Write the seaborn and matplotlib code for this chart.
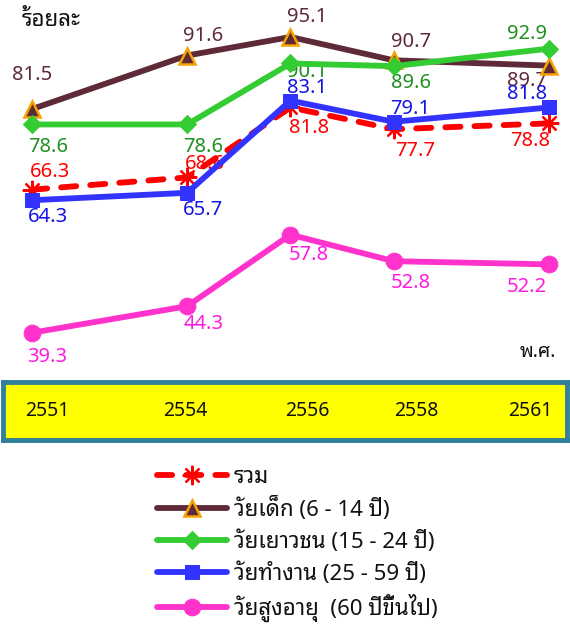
import matplotlib
matplotlib.use("Agg")
import matplotlib.pyplot as plt
import pandas as pd
import seaborn as sns

# Thai labour force participation by age group (percent), Thai Buddhist-era years
years = [2551, 2554, 2556, 2558, 2561]
total = [66.3, 68.6, 81.8, 77.7, 78.8]
child = [81.5, 91.6, 95.1, 90.7, 89.7]
youth = [78.6, 78.6, 90.1, 89.6, 92.9]
working = [64.3, 65.7, 83.1, 79.1, 81.8]
elderly = [39.3, 44.3, 57.8, 52.8, 52.2]

series_names = ["รวม", "วัยเด็ก (6 - 14 ปี)", "วัยเยาวชน (15 - 24 ปี)",
                "วัยทำงาน (25 - 59 ปี)", "วัยสูงอายุ  (60 ปีขึ้นไป)"]
series_values = [total, child, youth, working, elderly]

y_title = "ร้อยละ"
x_title = "พ.ศ."

sns.set_theme(style="white")
plt.rcParams["font.family"] = ["Noto Sans", "Noto Sans Thai Looped"]

fig = plt.figure(figsize=(5.7, 6.28), dpi=100)
ax = fig.add_axes([0, 1 - 370 / 628, 1, 370 / 628])

styles = [
    dict(color="#FF0000", marker=(8, 2, 0), markersize=14, mew=1.6,
         mec="#FF0000", linestyle=(0, (2.6, 2.4)), dash_capstyle="round"),
    dict(color="#5E2A38", marker="^", markersize=12, mfc="#5E2A38",
         mec="#F5A300", mew=1.8),
    dict(color="#33CC33", marker="D", markersize=9, mfc="#33CC33", mec="#33CC33"),
    dict(color="#3333FF", marker="s", markersize=10, mfc="#3333FF", mec="#3333FF"),
    dict(color="#FF33CC", marker="o", markersize=12, mfc="#FF33CC", mec="#FF33CC"),
]
label_colors = ["#FF0000", "#5E2A38", "#1F8F1F", "#1414E6", "#FF1AE0"]
# label offsets in pixels (dx, dy) from each point
offsets = [
    [(18, 18), (18, 13), (19, -21), (21, -22), (-19, -18)],
    [(0, 34), (16, 20), (17, 20), (17, 18), (-22, -15)],
    [(16, -23), (16, -23), (17, -9), (17, -17), (-22, 15)],
    [(16, -17), (16, -17), (17, 13), (16, 13), (-22, 13)],
    [(15, -24), (17, -18), (18, -20), (17, -22), (-22, -23)],
]

handles = {}
for i in [1, 2, 0, 3, 4]:
    df = pd.DataFrame({"year": years, "value": series_values[i]})
    sns.lineplot(data=df, x="year", y="value", ax=ax, linewidth=4.2,
                 solid_capstyle="round", label=series_names[i], **styles[i])
    handles[i] = ax.get_lines()[-1]

for i in range(5):
    for x, v, (dx, dy) in zip(years, series_values[i], offsets[i]):
        ax.annotate(f"{v:.1f}", (x, v), xytext=(dx, dy), textcoords="offset pixels",
                    ha="center", va="center", fontsize=14.5, color=label_colors[i],
                    zorder=1.5)

ax.set_xlim(2550.38, 2561.41)
ax.set_ylim(32.27, 102.08)
ax.set_axis_off()
ax.get_legend().remove()

fig.text(22 / 570, 1 - 21 / 628, y_title, fontsize=16, fontweight="bold",
         va="center", ha="left", color="#111111")
fig.text(556 / 570, 1 - 352 / 628, x_title, fontsize=14, fontweight="bold",
         va="center", ha="right", color="#111111")

# yellow year band
box = fig.add_axes([3 / 570, 1 - 440 / 628, 564 / 570, 58 / 628])
box.set_facecolor("#FFFF00")
for s in box.spines.values():
    s.set_color("#31809A")
    s.set_linewidth(3.5)
box.set_xticks([])
box.set_yticks([])
box.set_xlim(3, 567)
box.set_ylim(0, 1)
label_x = [47, 185, 307, 416, 530]
for lx, yr in zip(label_x, years):
    box.text(lx, 0.5, str(yr), ha="center", va="center", fontsize=14, color="#111111")

leg = fig.legend([handles[i] for i in range(5)], series_names,
                 loc="upper left", bbox_to_anchor=(157 / 570, 1 - 467 / 628),
                 frameon=False, fontsize=16, handlelength=3.15, handletextpad=0.3,
                 labelspacing=0.41, borderpad=0, borderaxespad=0)
for t in leg.get_texts():
    t.set_color("#111111")

fig.savefig("out.png", dpi=100)
